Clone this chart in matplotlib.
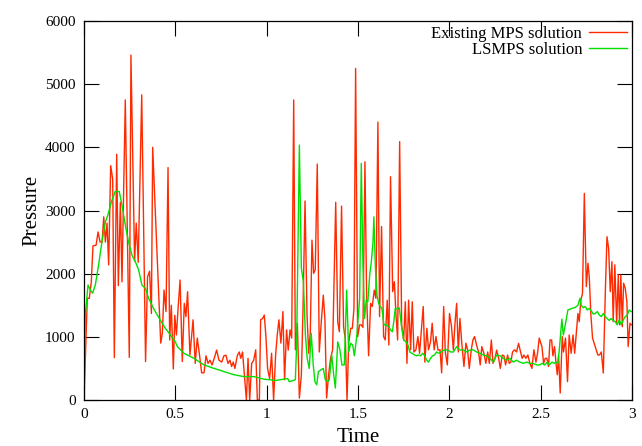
# Pressure history: existing MPS vs LSMPS (gnuplot-style figure)
import matplotlib
matplotlib.use('Agg')
import matplotlib.pyplot as plt

# values
mps_t = [0.000, 0.018, 0.029, 0.040, 0.049, 0.066, 0.077, 0.088, 0.099, 0.108,
         0.117, 0.126, 0.135, 0.146, 0.157, 0.166, 0.179, 0.188, 0.199, 0.208,
         0.226, 0.248, 0.257, 0.277, 0.286, 0.297, 0.316, 0.337, 0.348, 0.359,
         0.369, 0.376, 0.400, 0.420, 0.429, 0.438, 0.449, 0.460, 0.469, 0.478,
         0.489, 0.497, 0.506, 0.515, 0.526, 0.538, 0.549, 0.558, 0.567, 0.580,
         0.597, 0.609, 0.620, 0.633, 0.644, 0.657, 0.668, 0.679, 0.690, 0.701,
         0.713, 0.726, 0.739, 0.754, 0.766, 0.777, 0.788, 0.799, 0.808, 0.817,
         0.826, 0.839, 0.850, 0.858, 0.868, 0.879, 0.889, 0.898, 0.907, 0.918,
         0.929, 0.940, 0.949, 0.960, 0.967, 0.978, 0.987, 0.996, 1.005, 1.016,
         1.027, 1.038, 1.049, 1.058, 1.067, 1.078, 1.089, 1.098, 1.109, 1.118,
         1.128, 1.137, 1.148, 1.157, 1.168, 1.179, 1.190, 1.199, 1.210, 1.221,
         1.230, 1.239, 1.248, 1.257, 1.266, 1.277, 1.288, 1.299, 1.310, 1.319,
         1.328, 1.339, 1.350, 1.361, 1.378, 1.389, 1.398, 1.410, 1.421, 1.431,
         1.440, 1.449, 1.460, 1.469, 1.478, 1.487, 1.498, 1.509, 1.518, 1.527,
         1.538, 1.547, 1.558, 1.569, 1.578, 1.589, 1.598, 1.609, 1.618, 1.629,
         1.640, 1.649, 1.660, 1.669, 1.678, 1.690, 1.699, 1.708, 1.717, 1.728,
         1.739, 1.750, 1.759, 1.768, 1.777, 1.788, 1.797, 1.806, 1.817, 1.828,
         1.837, 1.846, 1.857, 1.866, 1.877, 1.886, 1.897, 1.906, 1.917, 1.927,
         1.938, 1.949, 1.958, 1.969, 1.978, 1.989, 2.001, 2.012, 2.022, 2.031,
         2.040, 2.049, 2.058, 2.069, 2.080, 2.091, 2.100, 2.109, 2.120, 2.129,
         2.138, 2.149, 2.160, 2.169, 2.178, 2.189, 2.200, 2.210, 2.219, 2.230,
         2.239, 2.250, 2.259, 2.270, 2.279, 2.290, 2.299, 2.308, 2.319, 2.328,
         2.337, 2.346, 2.357, 2.368, 2.379, 2.390, 2.399, 2.408, 2.419, 2.430,
         2.441, 2.452, 2.463, 2.474, 2.483, 2.492, 2.507, 2.516, 2.525, 2.534,
         2.543, 2.551, 2.560, 2.567, 2.576, 2.584, 2.591, 2.598, 2.607, 2.618,
         2.625, 2.636, 2.647, 2.656, 2.667, 2.677, 2.686, 2.695, 2.704, 2.711,
         2.720, 2.729, 2.739, 2.750, 2.759, 2.766, 2.775, 2.784, 2.793, 2.804,
         2.813, 2.822, 2.832, 2.843, 2.854, 2.863, 2.872, 2.881, 2.890, 2.897,
         2.906, 2.916, 2.925, 2.932, 2.939, 2.947, 2.954, 2.963, 2.972, 2.979,
         2.989, 2.996]
mps_p = [0, 1610, 1610, 1870, 2440, 2450, 2660, 2500, 2500, 2900,
         2500, 2800, 2140, 3710, 3500, 670, 3890, 1810, 3130, 1870,
         4750, 675, 5460, 2200, 2800, 2180, 4830, 610, 1950, 2040,
         1370, 4000, 2290, 900, 1060, 1740, 1400, 3680, 950, 1500,
         490, 1340, 1030, 1450, 1900, 610, 1530, 1320, 1715, 710,
         1270, 580, 980, 700, 430, 430, 700, 580, 630, 555,
         660, 790, 630, 600, 700, 710, 580, 630, 530, 600,
         500, 700, 760, 660, 760, 350, 0, 660, 0, 580,
         630, 795, 0, 0, 1270, 1290, 1345, 1000, 500, 340,
         740, 0, 710, 1030, 1270, 900, 1400, 320, 1110, 790,
         1110, 980, 4750, 795, 1215, 30, 400, 1450, 3150, 1345,
         740, 1080, 2530, 2005, 2060, 3735, 760, 1240, 1660, 1270,
         30, 400, 660, 795, 3130, 1240, 1080, 3070, 1160, 950,
         0, 900, 1135, 1135, 1450, 5250, 1000, 1190, 1190, 1150,
         3770, 1690, 700, 1530, 1480, 1740, 1610, 4400, 1320, 2745,
         1005, 950, 1580, 870, 3535, 1715, 1873, 1345, 950, 4090,
         1190, 950, 1555, 580, 1580, 795, 1555, 760, 795, 1005,
         740, 1080, 1480, 600, 1135, 795, 920, 1215, 795, 1005,
         790, 795, 430, 1480, 760, 555, 1370, 1160, 790, 1215,
         1530, 760, 1290, 870, 530, 900, 795, 500, 790, 950,
         1005, 870, 760, 555, 845, 740, 580, 760, 580, 950,
         580, 660, 790, 660, 500, 712, 700, 555, 712, 580,
         600, 760, 795, 760, 897, 760, 660, 712, 660, 712,
         580, 500, 795, 600, 740, 980, 845, 580, 660, 660,
         530, 950, 950, 700, 845, 580, 400, 700, 110, 1005,
         760, 980, 290, 1030, 740, 1030, 740, 1057, 1370, 1240,
         1580, 1690, 3270, 1795, 2165, 1950, 1345, 980, 897, 790,
         712, 712, 760, 427, 1715, 2585, 2400, 1715, 2190, 1240,
         2140, 1215, 1980, 1190, 1980, 1160, 1850, 1770, 1555, 845,
         1215, 1190]

lsmps_t = [0.000, 0.007, 0.022, 0.035, 0.047, 0.062, 0.080, 0.098, 0.117, 0.131,
           0.150, 0.171, 0.193, 0.208, 0.226, 0.244, 0.263, 0.281, 0.299, 0.317,
           0.336, 0.354, 0.372, 0.390, 0.418, 0.445, 0.473, 0.500, 0.511, 0.547,
           0.602, 0.657, 0.712, 0.766, 0.821, 0.876, 0.931, 0.985, 1.050, 1.115,
           1.124, 1.157, 1.164, 1.179, 1.190, 1.201, 1.212, 1.222, 1.233, 1.244,
           1.255, 1.264, 1.274, 1.283, 1.297, 1.310, 1.321, 1.334, 1.343, 1.356,
           1.367, 1.376, 1.389, 1.401, 1.412, 1.425, 1.438, 1.449, 1.460, 1.471,
           1.480, 1.493, 1.509, 1.518, 1.527, 1.536, 1.545, 1.554, 1.564, 1.573,
           1.582, 1.587, 1.595, 1.604, 1.613, 1.622, 1.631, 1.642, 1.655, 1.668,
           1.678, 1.688, 1.697, 1.704, 1.715, 1.726, 1.737, 1.750, 1.762, 1.773,
           1.784, 1.795, 1.810, 1.821, 1.832, 1.843, 1.854, 1.865, 1.876, 1.886,
           1.897, 1.908, 1.919, 1.930, 1.941, 1.956, 1.970, 1.981, 1.992, 2.007,
           2.022, 2.040, 2.058, 2.076, 2.095, 2.113, 2.131, 2.149, 2.168, 2.186,
           2.204, 2.222, 2.241, 2.259, 2.277, 2.295, 2.314, 2.332, 2.350, 2.368,
           2.386, 2.405, 2.423, 2.441, 2.459, 2.478, 2.496, 2.507, 2.522, 2.536,
           2.547, 2.562, 2.573, 2.584, 2.594, 2.602, 2.609, 2.616, 2.624, 2.635,
           2.649, 2.671, 2.689, 2.704, 2.715, 2.722, 2.733, 2.744, 2.755, 2.766,
           2.777, 2.788, 2.799, 2.810, 2.821, 2.832, 2.843, 2.854, 2.864, 2.875,
           2.886, 2.897, 2.908, 2.919, 2.930, 2.941, 2.952, 2.963, 2.974, 2.985,
           2.996]
lsmps_p = [0, 1345, 1820, 1740, 1690, 1820, 2140, 2500, 2820, 2930,
           3140, 3300, 3300, 3080, 2770, 2500, 2290, 2190, 2060, 1820,
           1770, 1610, 1500, 1400, 1266, 1135, 1030, 920, 845, 740,
           660, 555, 500, 450, 400, 370, 370, 330, 310, 340,
           290, 320, 870, 4035, 2085, 1873, 1030, 660, 500, 1057,
           555, 290, 240, 450, 475, 500, 320, 290, 320, 712,
           400, 190, 920, 795, 555, 555, 1740, 760, 897, 870,
           700, 1005, 1610, 3745, 2165, 1290, 1580, 1555, 1980, 2190,
           2500, 2900, 2110, 1660, 1530, 1480, 1450, 1190, 1190, 1160,
           1110, 1080, 1266, 1450, 1440, 1460, 1190, 950, 923, 870,
           760, 740, 712, 700, 712, 700, 740, 700, 630, 600,
           660, 700, 712, 760, 740, 760, 790, 795, 790, 760,
           760, 845, 790, 795, 760, 790, 795, 760, 740, 712,
           700, 660, 600, 712, 700, 660, 630, 660, 600, 630,
           600, 580, 600, 580, 580, 555, 555, 580, 555, 600,
           555, 600, 580, 600, 580, 795, 1030, 1280, 1030, 1190,
           1425, 1450, 1465, 1500, 1610, 1500, 1460, 1480, 1425, 1450,
           1410, 1360, 1370, 1400, 1345, 1320, 1370, 1320, 1290, 1260,
           1290, 1260, 1240, 1190, 1266, 1190, 1266, 1320, 1345, 1425,
           1400]

x_ticks = [0, 0.5, 1, 1.5, 2, 2.5, 3]
x_labels = ['0', '0.5', '1', '1.5', '2', '2.5', '3']
y_ticks = [0, 1000, 2000, 3000, 4000, 5000, 6000]

plt.rcParams['font.family'] = ['Liberation Serif', 'DejaVu Serif']

fig = plt.figure(figsize=(6.42, 4.46), dpi=100)
ax = fig.add_axes([84 / 642, 46 / 446, 548 / 642, 379 / 446])

ax.plot(mps_t, mps_p, color='#ff2a00', lw=1.0, label='Existing MPS solution')
ax.plot(lsmps_t, lsmps_p, color='#00e000', lw=1.0, label='LSMPS solution')

ax.set_xlim(0, 3)
ax.set_ylim(0, 6000)
ax.set_xticks(x_ticks)
ax.set_xticklabels(x_labels)
ax.set_yticks(y_ticks)
ax.tick_params(direction='in', length=11, width=0.8, top=True, right=True,
               labelsize=11, pad=6)
for s in ax.spines.values():
    s.set_linewidth(0.9)

ax.set_xlabel('Time', fontsize=15, labelpad=5)
ax.set_ylabel('Pressure', fontsize=15, labelpad=3)

ax.legend(loc='upper right', markerfirst=False, frameon=False, fontsize=12,
          handlelength=2.3, handletextpad=0.4, labelspacing=0.0,
          borderaxespad=0.1, borderpad=0.2)

fig.savefig('out.png', dpi=100)
